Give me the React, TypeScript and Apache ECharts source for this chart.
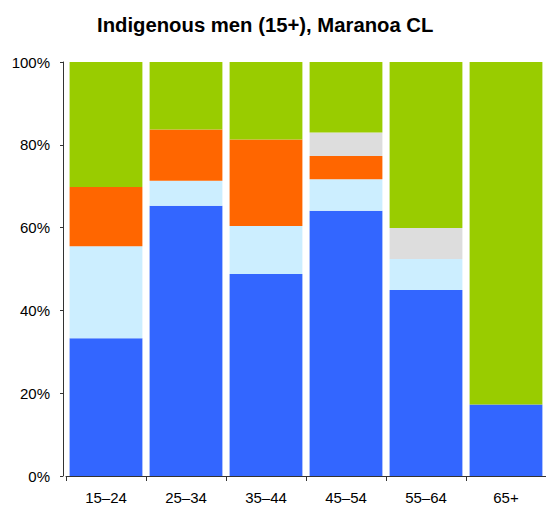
import React, { useEffect, useRef } from "react";
import * as echarts from "echarts";

const categories = ["15–24", "25–34", "35–44", "45–54", "55–64", "65+"];
const seriesNames = ["Employed full-time", "Employed part-time", "Employed, away from work", "Unemployed", "Not in the labour force"];
const fullTime = [33.3, 65.3, 48.8, 64.1, 44.9, 17.3];
const partTime = [22.2, 6.0, 11.6, 7.6, 7.5, 0];
const away = [14.3, 12.4, 20.9, 5.6, 0, 0];
const unemployed = [0, 0, 0, 5.7, 7.5, 0];
const notInLF = [30.2, 16.3, 18.7, 17.0, 40.1, 82.7];
const yTicks = [0, 20, 40, 60, 80, 100];

const colors = ["#3366ff", "#cceeff", "#ff6600", "#dddddd", "#99cc00"];

export default function App() {
  const ref = useRef<HTMLDivElement>(null);
  useEffect(() => {
    if (!ref.current) return;
    const chart = echarts.init(ref.current, null, { renderer: "svg" });
    const data = [fullTime, partTime, away, unemployed, notInLF];
    chart.setOption({
      animation: false,
      title: {
        text: "Indigenous men (15+), Maranoa CL",
        left: 92,
        top: 10,
        textStyle: { fontFamily: "Liberation Sans, Arial", fontSize: 20.3, fontWeight: "bold", color: "#000" },
      },
      grid: { left: 66, right: 0, top: 62, bottom: 30 },
      xAxis: {
        type: "category",
        data: categories,
        axisLine: { lineStyle: { color: "#333", width: 1 } },
        axisTick: { show: true, length: 5, lineStyle: { color: "#333" } },
        axisLabel: { fontFamily: "Liberation Sans, Arial", fontSize: 15, color: "#000", margin: 14 },
      },
      yAxis: {
        type: "value",
        min: 0,
        max: 100,
        interval: 20,
        offset: 3,
        splitLine: { show: false },
        axisLine: { show: true, lineStyle: { color: "#333", width: 1 } },
        axisTick: { show: true, length: 3, lineStyle: { color: "#333" } },
        axisLabel: {
          fontFamily: "Liberation Sans, Arial",
          fontSize: 15,
          color: "#000",
          margin: 13,
          formatter: (v: number) => (yTicks.includes(v) ? v + "%" : ""),
        },
      },
      series: data.map((d, i) => ({
        name: seriesNames[i],
        type: "bar",
        stack: "total",
        data: d,
        barCategoryGap: "9%",
        itemStyle: { color: colors[i] },
      })),
    });
    return () => chart.dispose();
  }, []);
  return <div ref={ref} style={{ width: 546, height: 506, position: "absolute", left: 0, top: 0 }} />;
}
